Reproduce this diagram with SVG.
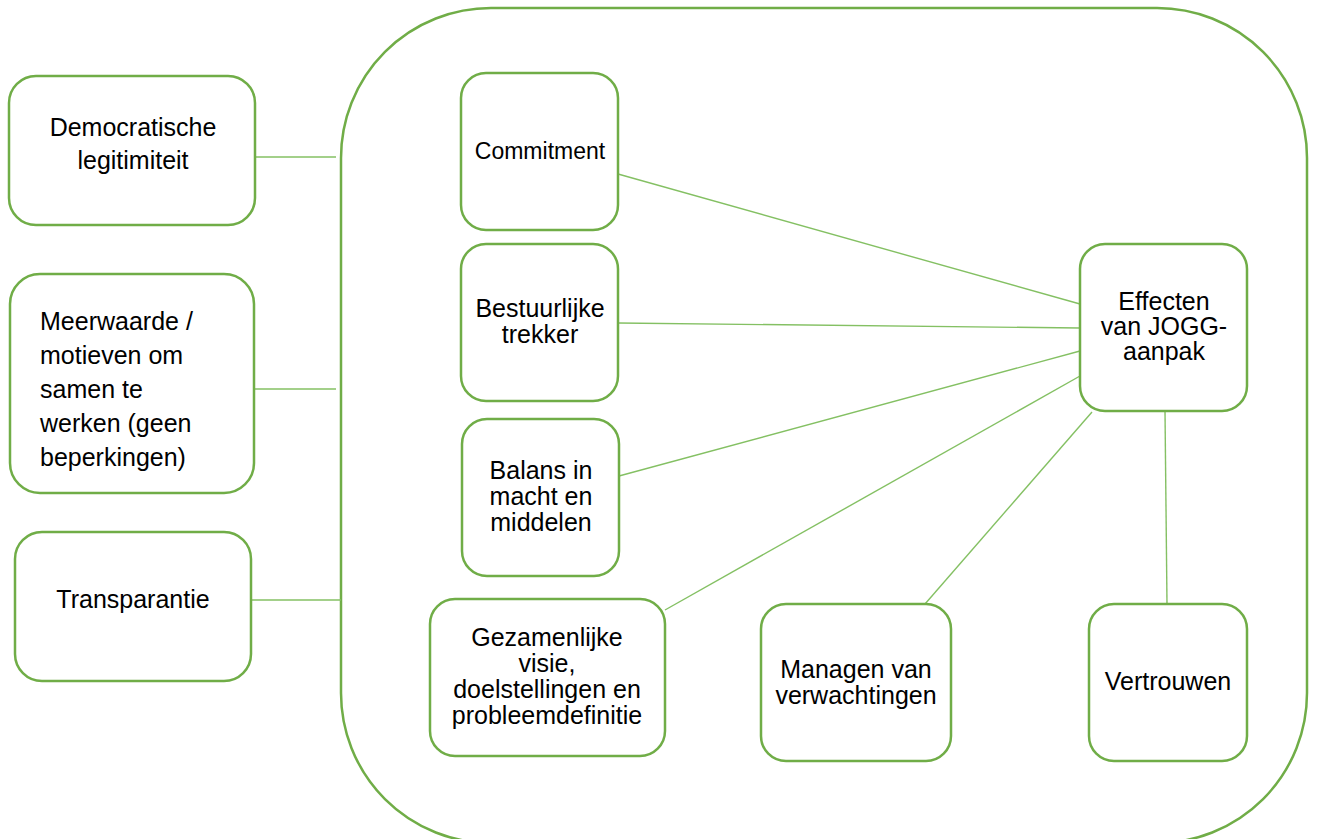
<svg xmlns="http://www.w3.org/2000/svg" width="1317" height="839" viewBox="0 0 1317 839">
<style>
.box{fill:#fff;stroke:#70AD47;stroke-width:2.5}
.frame{fill:none;stroke:#70AD47;stroke-width:2.5}
.con{stroke:#84C063;stroke-width:1.4;fill:none}
text{font-family:"Liberation Sans",Arial,sans-serif;font-size:25px;fill:#000}
.c{text-anchor:middle}
</style>
<rect width="1317" height="839" fill="#fff"/>
<rect id="container" class="frame" x="341" y="8" width="966" height="835" rx="150" ry="150"/>
<g id="connectors">
<line class="con" x1="256" y1="157" x2="336" y2="157"/>
<line class="con" x1="255" y1="389" x2="336" y2="389"/>
<line class="con" x1="252" y1="600" x2="341" y2="600"/>
<line class="con" x1="618" y1="174" x2="1080" y2="304"/>
<line class="con" x1="618" y1="323" x2="1080" y2="328"/>
<line class="con" x1="619" y1="476" x2="1080" y2="351"/>
<line class="con" x1="665" y1="610" x2="1080" y2="376"/>
<line class="con" x1="925" y1="604" x2="1092" y2="412"/>
<line class="con" x1="1167" y1="604" x2="1165" y2="411"/>
</g>
<g id="democratische">
<rect class="box" x="9" y="76" width="246" height="149" rx="27"/>
<text class="c" x="133" y="136">Democratische</text>
<text class="c" x="133" y="169">legitimiteit</text>
</g>
<g id="meerwaarde">
<rect class="box" x="10" y="274" width="244" height="219" rx="30"/>
<text x="40" y="330">Meerwaarde /</text>
<text x="40" y="364">motieven om</text>
<text x="40" y="398">samen te</text>
<text x="40" y="432">werken (geen</text>
<text x="40" y="466">beperkingen)</text>
</g>
<g id="transparantie">
<rect class="box" x="15" y="532" width="236" height="149" rx="27"/>
<text class="c" x="133" y="608">Transparantie</text>
</g>
<g id="commitment">
<rect class="box" x="461" y="73" width="157" height="157" rx="25"/>
<text class="c" x="540" y="159" style="font-size:23px">Commitment</text>
</g>
<g id="bestuurlijke">
<rect class="box" x="461" y="244" width="157" height="157" rx="25"/>
<text class="c" x="540" y="317">Bestuurlijke</text>
<text class="c" x="540" y="343">trekker</text>
</g>
<g id="balans">
<rect class="box" x="462" y="419" width="157" height="157" rx="25"/>
<text class="c" x="541" y="479">Balans in</text>
<text class="c" x="541" y="505">macht en</text>
<text class="c" x="541" y="531">middelen</text>
</g>
<g id="gezamenlijke">
<rect class="box" x="430" y="599" width="235" height="157" rx="25"/>
<text class="c" x="547" y="646">Gezamenlijke</text>
<text class="c" x="547" y="672">visie,</text>
<text class="c" x="547" y="698">doelstellingen en</text>
<text class="c" x="547" y="724">probleemdefinitie</text>
</g>
<g id="managen">
<rect class="box" x="761" y="604" width="190" height="157" rx="25"/>
<text class="c" x="856" y="678">Managen van</text>
<text class="c" x="856" y="704">verwachtingen</text>
</g>
<g id="vertrouwen">
<rect class="box" x="1089" y="604" width="158" height="157" rx="25"/>
<text class="c" x="1168" y="690">Vertrouwen</text>
</g>
<g id="effecten">
<rect class="box" x="1080" y="244" width="167" height="167" rx="25"/>
<text class="c" x="1164" y="310">Effecten</text>
<text class="c" x="1164" y="335">van JOGG-</text>
<text class="c" x="1164" y="360">aanpak</text>
</g>
</svg>
